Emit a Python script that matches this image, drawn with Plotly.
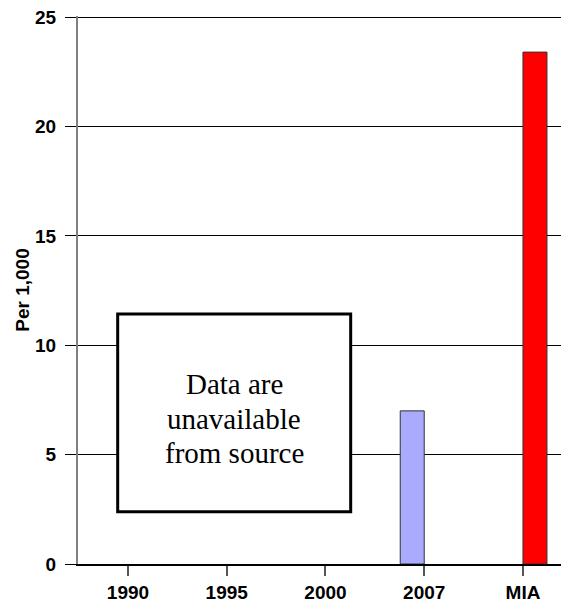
import plotly.graph_objects as go

categories = ["1990", "1995", "2000", "2007", "MIA"]
state_values = [None, None, None, 7.0, None]
mia_values = [None, None, None, None, 23.4]
y_ticks = [0, 5, 10, 15, 20, 25]
note_lines = ["Data are", "unavailable", "from source"]

# page has an 8px body margin, so the figure is sized to fill the remaining window
W, H = 561, 595
ML, MR, MT, MB = 70, 1, 8, 39

fig = go.Figure()
fig.add_trace(go.Bar(x=categories, y=state_values, marker=dict(color="#AAAAFF", line=dict(color="#333333", width=1)),
                     showlegend=False))
fig.add_trace(go.Bar(x=categories, y=mia_values, marker=dict(color="#FF0000", line=dict(color="#333333", width=1)),
                     showlegend=False))

tickfont = dict(family="Liberation Sans, Arial, sans-serif", size=19, color="black", weight="bold")

fig.update_layout(
    width=W, height=H,
    margin=dict(l=ML, r=MR, t=MT, b=MB, pad=0, autoexpand=False),
    paper_bgcolor="white", plot_bgcolor="white",
    barmode="group", bargap=0.514, bargroupgap=0,
    xaxis=dict(type="category", range=[-0.506, 4.456], showgrid=False, zeroline=False, automargin=False,
               showline=True, linecolor="black", linewidth=1.5,
               ticks="outside", ticklen=10, tickcolor="#555555", tickwidth=1.5,
               tickfont=tickfont, ticklabelstandoff=0),
    yaxis=dict(range=[0, 25.05], tickvals=y_ticks, showgrid=True, gridcolor="black", gridwidth=1,
               zeroline=False, showline=True, linecolor="#808080", linewidth=2, automargin=False,
               ticks="outside", ticklen=11, tickcolor="black", tickwidth=1,
               tickfont=tickfont, ticklabelstandoff=5, ticklabeloverflow="allow",
               title=dict(text="Per 1,000", font=dict(family="Liberation Sans, Arial, sans-serif", size=19,
                                                        color="black", weight="bold"), standoff=0)),
)

# note box
fig.add_shape(type="rect", xref="paper", yref="y", x0=0.081, x1=0.5565, y0=2.39, y1=11.43,
              line=dict(color="black", width=3), fillcolor="white", layer="above")
note_y = [7.77, 6.17, 4.62]
for txt, yv in zip(note_lines, note_y):
    fig.add_annotation(xref="paper", yref="y", x=0.3188, y=yv, text=txt, showarrow=False,
                       xanchor="center", yanchor="bottom", yshift=-8,
                       font=dict(family="Liberation Serif, Times New Roman, serif", size=29, color="black"))

fig.write_html("out.html")
